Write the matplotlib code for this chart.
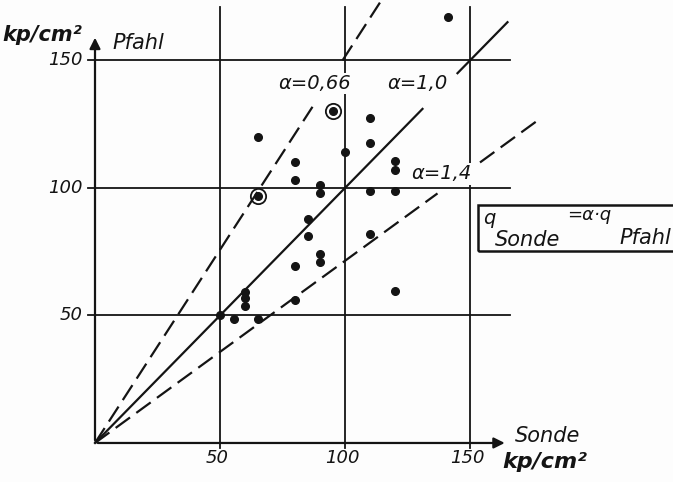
import matplotlib
matplotlib.use("Agg")
import matplotlib.pyplot as plt
from matplotlib.patches import Rectangle

# measured points: q_Sonde (x) vs q_Pfahl (y), kp/cm2
sonde = [50, 55.5, 60, 60, 60, 65, 65, 80, 80, 80, 80, 85, 85, 90, 90, 90, 90,
         100, 110, 110, 110, 110, 120, 120, 120, 120, 141]
pfahl = [50, 48.6, 59.3, 56.7, 53.7, 48.6, 120, 110, 103, 69.5, 56, 88, 81, 101, 98, 74, 71,
         114, 127.5, 117.5, 99, 82, 110.6, 107, 99, 59.6, 167]
# circled points
sonde_circ = [65, 95]
pfahl_circ = [97, 130]

ticks = [50, 100, 150]

# q_Sonde = alpha * q_Pfahl
alpha_vals = [0.66, 1.0, 1.4]
alpha_text = ['0,66', '1,0', '1,4']
alpha_segs = [[(0, 87), (99, 114)],
              [(0, 131), (145, 165)],
              [(0, 137), (154, 178)]]
alpha_styles = ['dashed', 'solid', 'dashed']
alpha_lab_pos = [(88, 141), (129, 141), (138.5, 105.5)]

ink = '#141414'
fnt = dict(family='DejaVu Sans', style='italic', color=ink)

fig = plt.figure(figsize=(6.73, 4.82), dpi=100)
fig.patch.set_facecolor('#fdfdfd')
ax = fig.add_axes([0, 0, 1, 1])
ax.set_xlim(-38, 231.2)
ax.set_ylim(-15.3, 173.7)
ax.axis('off')

# grid
for t in ticks:
    ax.plot([t, t], [-2, 171], color=ink, lw=1.3, zorder=1)
    ax.plot([-2.8, 166], [t, t], color=ink, lw=1.3, zorder=1)

# axes with arrows
ax.annotate('', xy=(0, 160), xytext=(0, 0),
            arrowprops=dict(arrowstyle='-|>', lw=1.6, color=ink, mutation_scale=16))
ax.annotate('', xy=(165, 0), xytext=(0, 0),
            arrowprops=dict(arrowstyle='-|>', lw=1.6, color=ink, mutation_scale=16))

# alpha lines
for a, segs, st in zip(alpha_vals, alpha_segs, alpha_styles):
    for x0, x1 in segs:
        if st == 'dashed':
            ax.plot([x0, x1], [x0 / a, x1 / a], color=ink, lw=1.6,
                    ls=(0, (8, 3.5)), zorder=2)
        else:
            ax.plot([x0, x1], [x0 / a, x1 / a], color=ink, lw=1.6, zorder=2)

for (lx, ly), txt in zip(alpha_lab_pos, alpha_text):
    ax.text(lx, ly, '\u03b1=' + txt, fontsize=14, ha='center', va='center', zorder=4,
            bbox=dict(facecolor='#fdfdfd', edgecolor='none', pad=1), **fnt)

# points
ax.plot(sonde, pfahl, 'o', color=ink, ms=5.5, zorder=3)
ax.plot(sonde_circ, pfahl_circ, 'o', color=ink, ms=5.5, zorder=3)
ax.plot(sonde_circ, pfahl_circ, 'o', mfc='none', mec=ink, mew=1.3, ms=11, zorder=3)

# tick labels
for t in ticks:
    ax.text(-4.8, t, str(t), fontsize=13, ha='right', va='center', **fnt)
    ax.text(t - 1.2, -6, str(t), fontsize=13, ha='center', va='center', **fnt)

# axis labels
ax.text(-37.2, 160, 'kp/cm\u00b2', fontsize=15, ha='left', va='center', weight='bold', **fnt)
ax.text(6.8, 157, 'Pfahl', fontsize=15, ha='left', va='center', **fnt)
ax.text(168, 2.7, 'Sonde', fontsize=15, ha='left', va='center', **fnt)
ax.text(162.8, -7.5, 'kp/cm\u00b2', fontsize=16, ha='left', va='center', weight='bold', **fnt)

# formula box
ax.add_patch(Rectangle((153.2, 75.3), 90, 18, fill=False, ec=ink, lw=1.8, zorder=2))
ax.text(155.2, 88.0, 'q', fontsize=14, ha='left', va='center', **fnt)
ax.text(160.0, 79.5, 'Sonde', fontsize=15, ha='left', va='center', **fnt)
ax.text(189.0, 89.5, '=\u03b1\u00b7q', fontsize=13, ha='left', va='center', **fnt)
ax.text(209.6, 80.5, 'Pfahl', fontsize=15, ha='left', va='center', **fnt)

fig.savefig('out.png', dpi=100, facecolor=fig.get_facecolor())
